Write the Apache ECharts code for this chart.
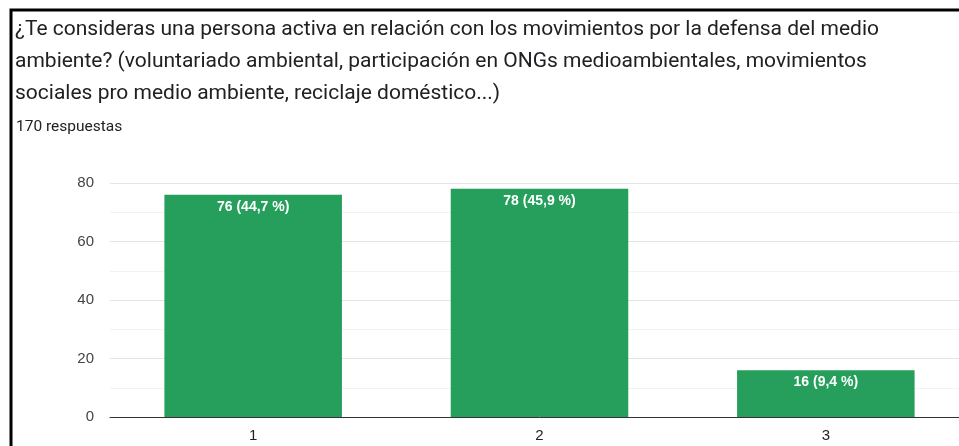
<!DOCTYPE html>
<html><head><meta charset="utf-8">
<script src="https://cdn.jsdelivr.net/npm/echarts@6/dist/echarts.min.js"></script>
<style>html,body{margin:0;padding:0;background:#fff;overflow:hidden;width:959px;height:446px}#c{width:970px;height:446px}</style>
</head><body><div id="c"></div>
<script>
const categories = ['1', '2', '3'];
const counts = [76, 78, 16];
const percents = ['44,7', '45,9', '9,4'];
const yTicks = [0, 20, 40, 60, 80];
const titleText = '¿Te consideras una persona activa en relación con los movimientos por la defensa del medio\nambiente? (voluntariado ambiental, participación en ONGs medioambientales, movimientos\nsociales pro medio ambiente, reciclaje doméstico...)';
const subtitleText = '170 respuestas';

const chart = echarts.init(document.getElementById('c'), null, {renderer: 'canvas'});
chart.setOption({
  animation: false,
  backgroundColor: '#fff',
  graphic: [{
    type: 'rect', silent: true,
    shape: {x: 11, y: 10, width: 970, height: 450},
    style: {fill: 'none', stroke: '#000', lineWidth: 3}
  }],
  title: [{
    text: titleText, left: 15, top: 14, padding: 0,
    textStyle: {fontFamily: 'Roboto', fontSize: 21, fontWeight: 'normal', color: '#202124', lineHeight: 32}
  }, {
    text: subtitleText, left: 16, top: 119, padding: 0,
    textStyle: {fontFamily: 'Roboto', fontSize: 15.5, fontWeight: 'normal', color: '#202124', lineHeight: 17}
  }],
  grid: {left: 110, right: 1, top: 183, bottom: 29, containLabel: false},
  xAxis: {
    type: 'category', data: categories,
    axisLine: {lineStyle: {color: '#333', width: 1}},
    axisTick: {show: false},
    axisLabel: {color: '#222', fontFamily: 'Arial', fontSize: 15, margin: 11}
  },
  yAxis: {
    type: 'value', min: yTicks[0], max: yTicks[yTicks.length - 1], interval: 20,
    axisLine: {show: false}, axisTick: {show: false},
    axisLabel: {color: '#444', fontFamily: 'Arial', fontSize: 15, margin: 16},
    splitLine: {lineStyle: {color: '#e4e4e4', width: 1}},
    minorTick: {show: false, splitNumber: 2},
    minorSplitLine: {show: true, lineStyle: {color: '#f3f3f3', width: 1}}
  },
  series: [{
    type: 'bar', data: counts, barCategoryGap: '38%',
    itemStyle: {color: '#259f5b'},
    label: {
      show: true, position: 'insideTop', distance: 5,
      color: '#fff', fontFamily: 'Arial', fontSize: 14, fontWeight: 'bold',
      formatter: p => p.value + ' (' + percents[p.dataIndex] + ' %)'
    }
  }]
});
</script></body></html>
